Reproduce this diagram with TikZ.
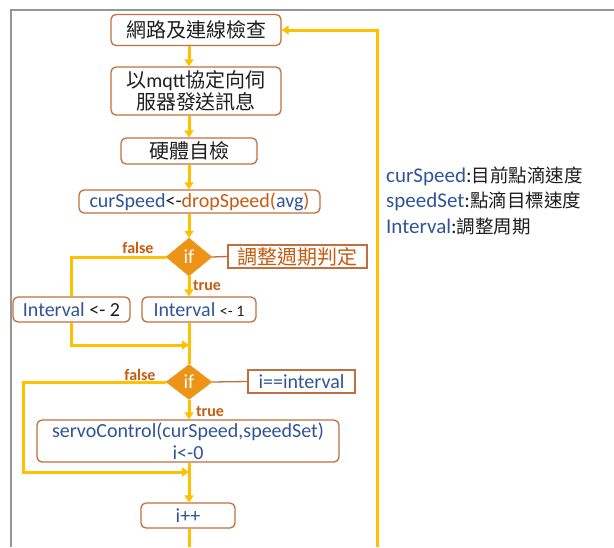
\documentclass[tikz,border=0pt]{standalone}
\usepackage{fontspec}
\setmainfont{Carlito}
\newfontfamily\cjk{Noto Sans CJK TC}
\usetikzlibrary{shapes.geometric, arrows.meta, calc}
\definecolor{flowyellow}{RGB}{255,192,0}
\definecolor{boxbrown}{RGB}{190,112,62}
\definecolor{codebrown}{RGB}{197,90,17}
\definecolor{varblue}{RGB}{47,85,151}
\definecolor{diafill}{RGB}{237,148,24}
\definecolor{framegray}{RGB}{150,150,150}
\definecolor{txtblack}{RGB}{30,30,30}
\newcommand{\vname}[1]{\textcolor{varblue}{#1}}
\newcommand{\fname}[1]{\textcolor{codebrown}{#1}}
\tikzset{
  box/.style={draw=boxbrown, line width=1.3pt, rounded corners=5pt, fill=white,
      inner sep=1pt, align=center, text=txtblack, font=\fontsize{20}{22}\selectfont},
  note/.style={draw=boxbrown, line width=1.3pt, fill=white, inner sep=1pt,
      font=\fontsize{20}{22}\selectfont},
  decision/.style={diamond, fill=diafill, draw=diafill, inner sep=0pt, text=white,
      font=\fontsize{20}{22}\selectfont},
  flow/.style={draw=flowyellow, line width=3pt, -{Triangle[width=9pt,length=7pt]}},
  flowline/.style={draw=flowyellow, line width=3pt},
  link/.style={draw=boxbrown, line width=1.3pt},
  branch/.style={text=codebrown, inner sep=0pt, font=\bfseries\fontsize{16}{18}\selectfont},
  legend/.style={anchor=west, inner sep=0pt, text=txtblack, font=\fontsize{21}{23}\selectfont},
}

\begin{document}
\begin{tikzpicture}[x=1pt, y=-1pt]
  \useasboundingbox (0,0) rectangle (614,547);
  % frame
  \draw[framegray, line width=2pt] (614,10) -- (11,10) -- (11,547);
  % boxes
  \node[box, minimum width=170pt, minimum height=31pt] (chk) at (196,30) {{\cjk 網路及連線檢查}};
  \node[box, minimum width=170pt, minimum height=48pt] (mqtt) at (196,91)
    {{\cjk 以}mqtt{\cjk 協定向伺}\\{\cjk 服器發送訊息}};
  \node[box, minimum width=136pt, minimum height=26pt] (hw) at (189,151) {{\cjk 硬體自檢}};
  \node[box, minimum width=241pt, minimum height=23pt] (cur) at (199.5,201.5)
    {\vname{curSpeed}<-\fname{dropSpeed(}\vname{avg}\fname{)}};
  \node[decision, minimum width=46pt, minimum height=38pt] (if1) at (189,257) {if};
  \node[note, minimum width=139pt, minimum height=23pt, text=codebrown] (chknote) at (297.5,256.5) {{\cjk 調整週期判定}};
  \node[box, minimum width=117pt, minimum height=25pt] (int2) at (71.5,309.5) {\vname{Interval} <- 2};
  \node[box, minimum width=114pt, minimum height=25pt] (int1) at (199,309.5)
    {\vname{Interval} {\fontsize{16}{18}\selectfont <- 1}};
  \coordinate (join1) at (189,345);
  \node[decision, minimum width=46pt, minimum height=35pt] (if2) at (189,382) {if};
  \node[note, minimum width=107pt, minimum height=23pt, text=varblue] (cntnote) at (301.5,381.5) {i==interval};
  \node[box, minimum width=302pt, minimum height=42pt] (servo) at (188,441)
    {\vname{servoControl(curSpeed,speedSet)}\\\vname{i<-0}};
  \coordinate (fl2) at (23,472);
  \coordinate (join2) at (189,472);
  \node[box, minimum width=94pt, minimum height=25pt] (inc) at (188,515.5) {\vname{i++}};
  \coordinate (exit) at (189,547);
  \coordinate (loop) at (377,547);
  % main flow
  \draw[flow] (chk.south -| hw.south) -- (mqtt.north -| hw.north);
  \draw[flow] (mqtt.south -| hw.south) -- (hw.north);
  \draw[flow] (hw.south) -- (cur.north -| hw.north);
  \draw[flow] (cur.south -| if1.north) -- (if1.north);
  \draw[flow] (if1.south) -- (int1.north -| if1.south);
  \draw[flowline] (if1.west) -| (int2.north);
  \draw[flow] (int2.south) |- (join1);
  \draw[flowline] (int1.south -| if2.north) -- (if2.north);
  \draw[flow] (if2.south) -- (servo.north -| if2.south);
  \draw[flow] (if2.west) -| (fl2) -- (join2);
  \draw[flow] (servo.south -| join2) -- (inc.north -| join2);
  \draw[flowline] (inc.south -| exit) -- (exit);
  \draw[flow] (loop) |- (chk.east);
  % notes
  \draw[link] (if1.east) -- (chknote.west);
  \draw[link] (if2.east) -- (cntnote.west);
  % branch labels
  \node[branch] (f1) at (138,248) {false};
  \node[branch] (t1) at (207,286) {true};
  \node[branch] (f2) at (140,375) {false};
  \node[branch] (t2) at (210,412) {true};
  % legend
  \node[legend] (lg1) at (386,176) {\vname{curSpeed}:{\cjk\fontsize{18.5}{20}\selectfont 目前點滴速度}};
  \node[legend] (lg2) at (386,201) {\vname{speedSet}:{\cjk\fontsize{18.5}{20}\selectfont 點滴目標速度}};
  \node[legend] (lg3) at (386,227) {\vname{Interval}:{\cjk\fontsize{18.5}{20}\selectfont 調整周期}};
\end{tikzpicture}
\end{document}
